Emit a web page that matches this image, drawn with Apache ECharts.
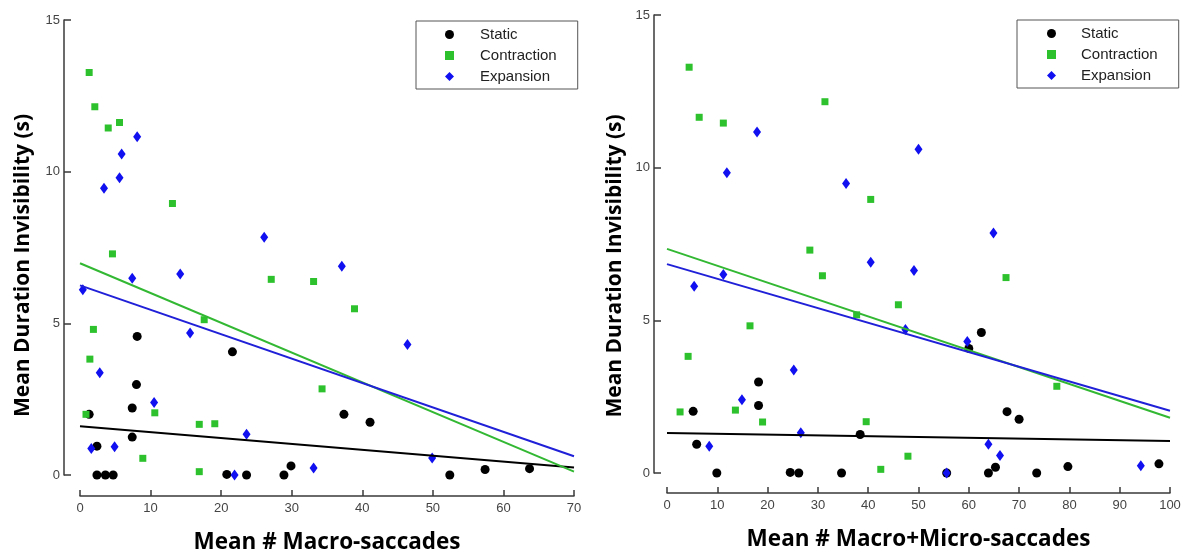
<!DOCTYPE html>
<html>
<head>
<meta charset="utf-8">
<script src="https://cdn.jsdelivr.net/npm/echarts@6/dist/echarts.min.js"></script>
<style>
  html, body { margin: 0; padding: 0; background: #fff; }
  #chart { width: 1184px; height: 552px; }
</style>
</head>
<body>
<div id="chart"></div>
<script>
// left panel: macro-saccades only
const staticMacroX = [1.3, 2.4, 2.4, 3.6, 4.7, 7.4, 7.4, 8.0, 8.1, 20.8, 21.6, 23.6, 28.9, 29.9, 37.4, 41.1, 52.4, 57.4, 63.7];
const staticMacroY = [2.0, 0.95, 0, 0, 0, 1.25, 2.21, 2.98, 4.57, 0.02, 4.06, 0, 0, 0.3, 2.0, 1.74, 0, 0.18, 0.21];
const contrMacroX = [0.85, 1.3, 1.4, 1.9, 2.1, 4.0, 4.6, 5.6, 8.9, 10.6, 13.1, 16.9, 16.9, 17.6, 19.1, 27.1, 33.1, 34.3, 38.9];
const contrMacroY = [2.0, 13.27, 3.82, 4.8, 12.14, 11.44, 7.29, 11.62, 0.55, 2.05, 8.95, 1.67, 0.11, 5.12, 1.69, 6.45, 6.38, 2.84, 5.48];
const expMacroX = [0.4, 1.6, 2.8, 3.4, 4.9, 5.6, 5.9, 7.4, 8.1, 10.5, 14.2, 15.6, 21.9, 23.6, 26.1, 33.1, 37.1, 46.4, 49.9];
const expMacroY = [6.11, 0.87, 3.37, 9.45, 0.93, 9.8, 10.58, 6.49, 11.15, 2.39, 6.63, 4.68, 0, 1.34, 7.84, 0.23, 6.88, 4.3, 0.56];

// right panel: macro + micro-saccades
const staticTotalX = [5.2, 5.9, 9.9, 18.2, 18.2, 24.5, 26.2, 34.7, 38.4, 55.6, 60.0, 62.5, 63.9, 65.3, 67.6, 70.0, 73.5, 79.7, 97.8];
const staticTotalY = [2.02, 0.94, 0, 2.21, 2.98, 0.02, 0, 0, 1.26, 0, 4.08, 4.6, 0, 0.19, 2.01, 1.76, 0, 0.21, 0.3];
const contrTotalX = [2.6, 4.2, 4.4, 6.4, 11.2, 13.6, 16.5, 19.0, 28.4, 30.9, 31.4, 37.7, 39.6, 40.5, 42.5, 46.0, 47.9, 67.4, 77.5];
const contrTotalY = [2.0, 3.82, 13.29, 11.65, 11.46, 2.06, 4.82, 1.67, 7.3, 6.46, 12.16, 5.18, 1.68, 8.96, 0.12, 5.51, 0.55, 6.4, 2.84];
const expTotalX = [5.4, 8.4, 11.2, 11.9, 14.9, 17.9, 25.2, 26.6, 35.6, 40.5, 47.4, 49.1, 50.0, 55.6, 59.7, 63.9, 64.9, 66.2, 94.2];
const expTotalY = [6.12, 0.88, 6.5, 9.83, 2.4, 11.17, 3.37, 1.32, 9.48, 6.9, 4.7, 6.63, 10.6, 0, 4.31, 0.94, 7.86, 0.57, 0.24];

// regression lines (values at both ends of the x range)
const fitMacroX = [0, 70];
const fitStaticMacro = [1.61, 0.25];
const fitContrMacro = [6.98, 0.11];
const fitExpMacro = [6.25, 0.62];
const fitTotalX = [0, 100];
const fitStaticTotal = [1.31, 1.05];
const fitContrTotal = [7.34, 1.81];
const fitExpTotal = [6.84, 2.04];

const yTicks = [0, 5, 10, 15];
const legendNames = ["Static", "Contraction", "Expansion"];

const BLACK = "#000000";
const GREEN = "#2dc22d";
const BLUE = "#1010f0";

const zip = (xs, ys) => xs.map((x, i) => [x, ys[i]]);

const axisLineStyle = { color: "#3a3a3a", width: 1.5 };
const tickLabel = { color: "#444", fontSize: 13, fontFamily: "Liberation Sans" };

const makeX = (idx, max, name, offset, gap) => ({
  type: "value",
  gridIndex: idx,
  min: 0,
  max: max,
  interval: 10,
  offset: offset,
  name: name,
  nameLocation: "middle",
  nameGap: gap,
  nameMoveOverlap: false,
  nameTextStyle: { color: "#000", fontSize: 22.5, fontWeight: "bold", fontFamily: "Open Sans" },
  axisLine: { show: true, onZero: false, lineStyle: axisLineStyle },
  axisTick: { show: true, inside: true, length: 6, lineStyle: axisLineStyle },
  axisLabel: Object.assign({ margin: 6 }, tickLabel),
  splitLine: { show: false }
});

// the y titles sit a little below the middle of the axis, hence the end padding
const makeY = (idx, offset, gap, shift) => ({
  type: "value",
  gridIndex: idx,
  min: yTicks[0],
  max: yTicks[yTicks.length - 1],
  interval: 5,
  offset: offset,
  name: "Mean Duration Invisibility (s)",
  nameLocation: "middle",
  nameGap: gap,
  nameMoveOverlap: false,
  nameTextStyle: { color: "#000", fontSize: 21, fontWeight: "bold", fontFamily: "Open Sans", padding: [0, shift, 0, 0] },
  axisLine: { show: true, onZero: false, lineStyle: axisLineStyle },
  axisTick: { show: true, inside: true, length: 7, lineStyle: axisLineStyle },
  axisLabel: Object.assign({ margin: 4 }, tickLabel),
  splitLine: { show: false }
});

const scatter = (name, idx, xs, ys, symbol, size, color) => ({
  name: name,
  type: "scatter",
  xAxisIndex: idx,
  yAxisIndex: idx,
  symbol: symbol,
  symbolSize: size,
  itemStyle: { color: color, opacity: 1 },
  data: zip(xs, ys),
  z: 2
});

const fit = (idx, xs, ys, color) => ({
  name: "fit",
  type: "line",
  xAxisIndex: idx,
  yAxisIndex: idx,
  symbol: "none",
  lineStyle: { color: color, width: 2 },
  data: zip(xs, ys),
  z: 3,
  silent: true
});

const makeLegend = (left, top, padLeft, textPad) => ({
  data: legendNames,
  orient: "vertical",
  left: left,
  top: top,
  itemWidth: 9,
  itemHeight: 9,
  itemGap: 6,
  padding: [6, 21, 5, padLeft],
  backgroundColor: "#fff",
  borderColor: "#555",
  borderWidth: 1,
  borderRadius: 0,
  textStyle: { color: "#222", fontSize: 15, lineHeight: 15, fontFamily: "Liberation Sans", padding: [0, 0, 0, textPad] }
});

const chart = echarts.init(document.getElementById("chart"));
chart.setOption({
  animation: false,
  grid: [
    { left: 80, top: 20, width: 494, height: 455, outerBoundsMode: "none", containLabel: false },
    { left: 667, top: 15, width: 503, height: 458, outerBoundsMode: "none", containLabel: false }
  ],
  xAxis: [
    makeX(0, fitMacroX[1], "Mean # Macro-saccades", 21, 35),
    makeX(1, fitTotalX[1], "Mean # Macro+Micro-saccades", 20, 35)
  ],
  yAxis: [makeY(0, 16, 30, 36), makeY(1, 13, 28, 44)],
  legend: [makeLegend(416, 21, 29, 21), makeLegend(1017, 20, 30, 20)],
  series: [
    scatter("Static", 0, staticMacroX, staticMacroY, "circle", 9, BLACK),
    scatter("Contraction", 0, contrMacroX, contrMacroY, "rect", 7, GREEN),
    scatter("Expansion", 0, expMacroX, expMacroY, "diamond", [8, 11], BLUE),
    fit(0, fitMacroX, fitStaticMacro, BLACK),
    fit(0, fitMacroX, fitContrMacro, "#33b833"),
    fit(0, fitMacroX, fitExpMacro, "#2020d8"),
    scatter("Static", 1, staticTotalX, staticTotalY, "circle", 9, BLACK),
    scatter("Contraction", 1, contrTotalX, contrTotalY, "rect", 7, GREEN),
    scatter("Expansion", 1, expTotalX, expTotalY, "diamond", [8, 11], BLUE),
    fit(1, fitTotalX, fitStaticTotal, BLACK),
    fit(1, fitTotalX, fitContrTotal, "#33b833"),
    fit(1, fitTotalX, fitExpTotal, "#2020d8")
  ]
});
</script>
</body>
</html>
